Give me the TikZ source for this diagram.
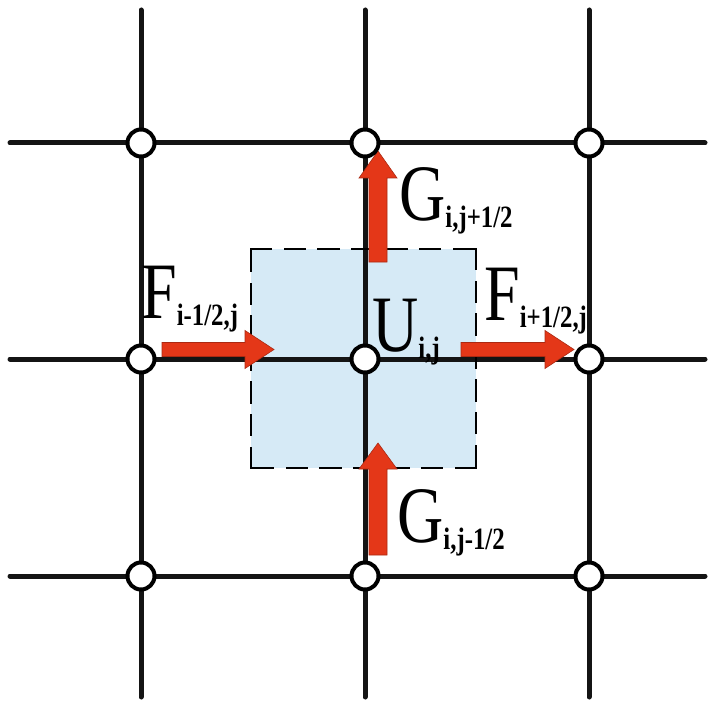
\documentclass[tikz,border=0pt]{standalone}
\usepackage{fontspec}
\setmainfont{Liberation Serif}
\definecolor{fluxred}{RGB}{228,55,24}
\definecolor{cellblue}{RGB}{214,234,246}
% big letter with a lowered bold subscript, narrowed a little
\newcommand\fluxlabel[2]{\scalebox{0.8}[1]{\fontsize{80}{80}\selectfont #1\raisebox{-7pt}{\fontsize{31}{31}\selectfont\bfseries #2}}}
\begin{document}
\begin{tikzpicture}[x=1pt,y=-1pt,
  gridline/.style={line width=5pt, line cap=round, black!92},
  gridpt/.style={circle, draw=black, line width=4pt, fill=white,
                 minimum size=27pt, inner sep=0pt},
  celledge/.style={line width=2.4pt, black, line cap=rect},
  flux/.style={fill=fluxred, draw=fluxred!75!black, line width=0.6pt, line join=miter},
  lbl/.style={anchor=base west, inner sep=0pt}]
\useasboundingbox (0,0) rectangle (707,708);

% grid points and free line ends
\foreach \c/\x in {0/141,1/365,2/589}{
  \foreach \r/\y in {0/143,1/359,2/576}{
    \coordinate (g\c\r) at (\x,\y);
  }
  \coordinate (top\c) at (\x,10);
  \coordinate (bot\c) at (\x,697);
}
\foreach \r/\y in {0/143,1/359,2/576}{
  \coordinate (lft\r) at (10,\y);
  \coordinate (rgt\r) at (705,\y);
}

% control cell around U_{i,j}
\coordinate (cA) at (251,249);
\coordinate (cB) at (476,249);
\coordinate (cC) at (476,468);
\coordinate (cD) at (251,468);
\fill[cellblue] (cA) rectangle (cC);

% mesh lines
\foreach \c in {0,1,2}{\draw[gridline] (top\c) -- (bot\c);}
\foreach \r in {0,1,2}{\draw[gridline] (lft\r) -- (rgt\r);}

% dashed cell boundary, each side begins and ends with a dash
\draw[celledge, dash pattern=on 20pt off 13.83pt] (cA) -- (cB);
\draw[celledge, dash pattern=on 20pt off 12.83pt] (cB) -- (cC);
\draw[celledge, dash pattern=on 20pt off 13.83pt] (cC) -- (cD);
\draw[celledge, dash pattern=on 20pt off 12.83pt] (cD) -- (cA);

% flux arrows
\filldraw[flux] (162,342.5) -- (245,342.5) -- (245,330.5) -- (274,349.5)
  -- (245,368.5) -- (245,356.5) -- (162,356.5) -- cycle;
\filldraw[flux] (461,342.5) -- (545,342.5) -- (545,330.5) -- (574,349.5)
  -- (545,368.5) -- (545,356.5) -- (461,356.5) -- cycle;
\filldraw[flux] (369,262) -- (369,178) -- (359,178) -- (378,151)
  -- (397,178) -- (387,178) -- (387,262) -- cycle;
\filldraw[flux] (369,555) -- (369,469) -- (359,469) -- (378,443)
  -- (397,469) -- (387,469) -- (387,555) -- cycle;

% mesh nodes
\foreach \c in {0,1,2}{
  \foreach \r in {0,1,2}{
    \node[gridpt] (n\c\r) at (g\c\r) {};
  }
}

% labels
\node[lbl] (fw) at (141,318) {\fluxlabel{F}{i-1/2,j}};
\node[lbl] (fe) at (484,320) {\fluxlabel{F}{i+1/2,j}};
\node[lbl] (gn) at (399,221) {\fluxlabel{G}{i,j+1/2}};
\node[lbl] (gs) at (397,542) {\fluxlabel{G}{i,j-1/2}};
\node[lbl] (uc) at (372,351) {\fluxlabel{U}{i,j}};
\end{tikzpicture}
\end{document}
